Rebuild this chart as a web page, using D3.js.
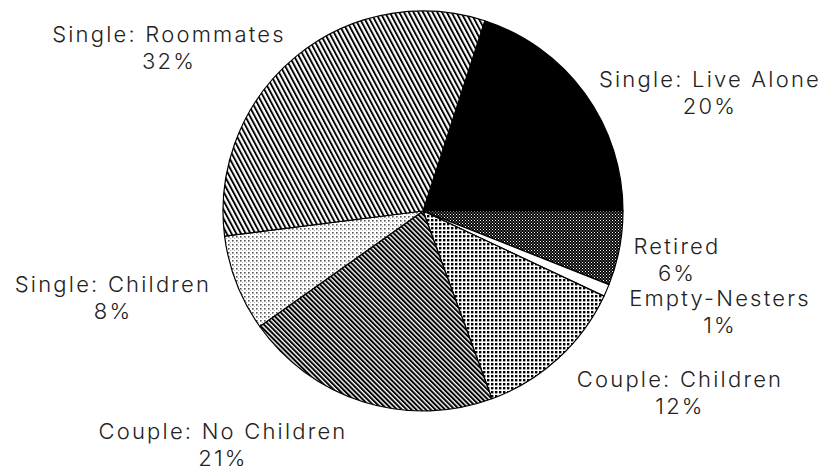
<!DOCTYPE html>
<html>
<head>
<meta charset="utf-8">
<script src="https://cdn.jsdelivr.net/npm/d3@7/dist/d3.min.js"></script>
<style>
  html, body { margin: 0; padding: 0; background: #fff; }
  svg { display: block; }
  text { font-family: Inter, "DejaVu Sans", sans-serif; font-weight: 300; fill: #222; }
</style>
</head>
<body>
<svg id="chart" width="828" height="470"></svg>
<script>
// ---- data ----
const categories = ["Single: Live Alone", "Retired", "Empty-Nesters", "Couple: Children",
                    "Couple: No Children", "Single: Children", "Single: Roommates"];
const shares = [20, 6, 1, 12.4, 20.8, 7.8, 32];
const percentLabels = ["20%", "6%", "1%", "12%", "21%", "8%", "32%"];
const fills = ["solid", "checkFine", "white", "dotGrid", "diagDense", "stipple", "diagSteep"];

// ---- layout (not data) ----
const W = 828, H = 470;
const cx = 423, cy = 211, R = 200;
const startDeg = 18;
const labelAnchors = [[710, 87], [677, 254], [720, 306], [680, 387], [223, 439], [113, 292], [169, 42]];
const lineGap = 27;

const svg = d3.select("#chart");
const defs = svg.append("defs");

function pat(id, size, transform) {
  const p = defs.append("pattern").attr("id", id).attr("patternUnits", "userSpaceOnUse")
    .attr("width", size).attr("height", size);
  if (transform) p.attr("patternTransform", transform);
  p.append("rect").attr("width", size).attr("height", size).attr("fill", "#fff");
  return p;
}
// fine dark checker (Retired)
{
  const p = pat("checkFine", 3);
  p.append("rect").attr("width", 3).attr("height", 3).attr("fill", "#000");
  p.append("rect").attr("x", 0).attr("y", 0).attr("width", 1).attr("height", 1).attr("fill", "#fff");
  p.append("rect").attr("x", 1.5).attr("y", 1.5).attr("width", 1).attr("height", 1).attr("fill", "#ddd");
}
// dot grid (Couple: Children)
{
  const p = pat("dotGrid", 4);
  p.append("rect").attr("x", 0).attr("y", 0).attr("width", 2.4).attr("height", 2.4).attr("fill", "#000");
}
// stipple (Single: Children)
{
  const p = pat("stipple", 4);
  p.append("rect").attr("x", 1).attr("y", 1).attr("width", 1.6).attr("height", 1.6).attr("fill", "#555");
  p.append("rect").attr("x", 3).attr("y", 3).attr("width", 1).attr("height", 1).attr("fill", "#aaa");
}
// dense diagonal (Couple: No Children)
{
  const p = pat("diagDense", 3.4, "rotate(-45)");
  p.append("rect").attr("x", 0).attr("y", 0).attr("width", 2).attr("height", 3.4).attr("fill", "#000");
}
// steep diagonal (Single: Roommates)
{
  const p = pat("diagSteep", 4.2, "rotate(-28)");
  p.append("rect").attr("x", 0).attr("y", 0).attr("width", 1.9).attr("height", 4.2).attr("fill", "#000");
}

function fillFor(kind) {
  if (kind === "solid") return "#000";
  if (kind === "white") return "#fff";
  return "url(#" + kind + ")";
}

const rows = categories.map((c, i) => ({ name: c, value: shares[i], pct: percentLabels[i], fill: fills[i], anchor: labelAnchors[i] }));

const pie = d3.pie().value(d => d.value).sort(null)
  .startAngle(startDeg * Math.PI / 180)
  .endAngle(startDeg * Math.PI / 180 + 2 * Math.PI);
const arc = d3.arc().innerRadius(0).outerRadius(R);

const g = svg.append("g").attr("transform", `translate(${cx},${cy})`);
g.selectAll("path").data(pie(rows)).join("path")
  .attr("d", arc)
  .attr("fill", d => fillFor(d.data.fill))
  .attr("stroke", "#000")
  .attr("stroke-width", 1.2)
  .attr("stroke-linejoin", "round");

const labelG = svg.append("g").attr("text-anchor", "middle")
  .attr("font-size", 22).attr("letter-spacing", 2.2);
labelG.selectAll("text.name").data(rows).join("text")
  .attr("class", "name")
  .attr("x", d => d.anchor[0])
  .attr("y", d => d.anchor[1])
  .text(d => d.name);
labelG.selectAll("text.pct").data(rows).join("text")
  .attr("class", "pct")
  .attr("x", d => d.anchor[0])
  .attr("y", d => d.anchor[1] + lineGap)
  .text(d => d.pct);
</script>
</body>
</html>
